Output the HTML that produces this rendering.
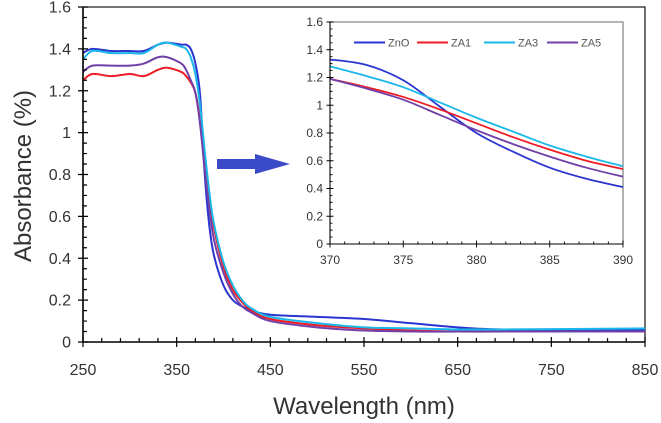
<!DOCTYPE html>
<html><head><meta charset="utf-8"><style>
html,body{margin:0;padding:0;background:#fff;}
svg{display:block;font-family:"Liberation Sans",sans-serif;}
</style></head><body>
<svg id="chart" width="661" height="423" viewBox="0 0 661 423" xmlns="http://www.w3.org/2000/svg">
<g id="main"></g>
<g id="inset"></g>
<path d="M217,159 L255,159 L255,154 L290,164 L255,174 L255,169 L217,169 Z" fill="#3b4bc8"/>
<text transform="translate(31,176) rotate(-90)" text-anchor="middle" font-size="24" fill="#333">Absorbance (%)</text>
<text x="364" y="414" text-anchor="middle" font-size="24" fill="#333">Wavelength (nm)</text>
</svg>
<script>
const seriesNames = ["ZnO","ZA1","ZA3","ZA5"];
const seriesColors = ["#2a35cf","#ee1c24","#1ab8ea","#7040a8"];
const mainWl = [250,260,280,300,315,330,340,355,360,365,370,375,380,385,390,400,410,420,430,450,500,550,600,650,700,850];
const mainZnO = [1.38,1.40,1.39,1.39,1.39,1.42,1.43,1.42,1.42,1.40,1.33,1.18,0.80,0.55,0.41,0.27,0.20,0.17,0.15,0.13,0.12,0.11,0.09,0.07,0.06,0.06];
const mainZA1 = [1.25,1.28,1.27,1.28,1.27,1.30,1.31,1.29,1.27,1.24,1.19,1.06,0.87,0.68,0.54,0.36,0.25,0.19,0.15,0.11,0.08,0.065,0.055,0.05,0.05,0.05];
const mainZA3 = [1.35,1.39,1.38,1.38,1.38,1.42,1.43,1.41,1.40,1.36,1.28,1.13,0.91,0.71,0.56,0.38,0.27,0.20,0.16,0.12,0.09,0.07,0.065,0.06,0.06,0.065];
const mainZA5 = [1.29,1.32,1.32,1.32,1.33,1.36,1.36,1.33,1.30,1.25,1.19,1.04,0.82,0.63,0.485,0.33,0.23,0.17,0.14,0.10,0.07,0.055,0.05,0.05,0.05,0.05];
const insetWl = [370,372.5,375,377.5,380,382.5,385,387.5,390];
const insetZnO = [1.33,1.29,1.18,0.99,0.80,0.665,0.55,0.47,0.41];
const insetZA1 = [1.19,1.13,1.06,0.97,0.87,0.77,0.68,0.60,0.54];
const insetZA3 = [1.28,1.21,1.13,1.02,0.91,0.81,0.71,0.63,0.56];
const insetZA5 = [1.19,1.12,1.04,0.93,0.82,0.72,0.63,0.55,0.485];
const mainXTicks = [250,350,450,550,650,750,850];
const mainYTicks = [0,0.2,0.4,0.6,0.8,1,1.2,1.4,1.6];
const insetXTicks = [370,375,380,385,390];
const insetYTicks = [0,0.2,0.4,0.6,0.8,1,1.2,1.4,1.6];

const NS="http://www.w3.org/2000/svg";
function mk(tag,attrs,parent){const e=document.createElementNS(NS,tag);for(const k in attrs)e.setAttribute(k,attrs[k]);parent.appendChild(e);return e;}
function smooth(pts){
  let d="M"+pts[0][0].toFixed(2)+","+pts[0][1].toFixed(2);
  for(let i=0;i<pts.length-1;i++){
    const p0=pts[Math.max(0,i-1)],p1=pts[i],p2=pts[i+1],p3=pts[Math.min(pts.length-1,i+2)];
    const c1=[p1[0]+(p2[0]-p0[0])/6,p1[1]+(p2[1]-p0[1])/6];
    const c2=[p2[0]-(p3[0]-p1[0])/6,p2[1]-(p3[1]-p1[1])/6];
    d+=" C"+c1[0].toFixed(2)+","+c1[1].toFixed(2)+" "+c2[0].toFixed(2)+","+c2[1].toFixed(2)+" "+p2[0].toFixed(2)+","+p2[1].toFixed(2);
  }
  return d;
}
function drawPlot(g,cfg){
  const X=v=>cfg.x0+(v-cfg.xmin)/(cfg.xmax-cfg.xmin)*(cfg.x1-cfg.x0);
  const Y=v=>cfg.y0-(v-cfg.ymin)/(cfg.ymax-cfg.ymin)*(cfg.y0-cfg.y1);
  const fr=mk("path",{d:`M${cfg.x0},${cfg.y1} H${cfg.x1} V${cfg.y0}`,fill:"none",stroke:cfg.frame,"stroke-width":1.3},g);
  
  
  cfg.series.forEach((s,i)=>{
    const pts=cfg.wl.map((w,j)=>[X(w),Y(s[j])]);
    const p=mk("path",{d:smooth(pts),fill:"none",stroke:seriesColors[i],"stroke-width":cfg.lw,"stroke-linejoin":"round"},g);
    
    
  });
  const ax=mk("path",{d:`M${cfg.x0},${cfg.y1} V${cfg.y0} H${cfg.x1}`,fill:"none",stroke:"#000","stroke-width":cfg.axw},g);
  
  
  let d="";
  for(let v=cfg.xmin;v<=cfg.xmax+1e-9;v+=cfg.xminor){const x=X(v);d+=`M${x},${cfg.y0} v-${cfg.minorLen} `;}
  for(let v=cfg.ymin;v<=cfg.ymax+1e-9;v+=cfg.yminor){const y=Y(v);d+=`M${cfg.x0},${y} h${cfg.minorLen} `;}
  cfg.xticks.forEach(v=>{const x=X(v);d+=`M${x},${cfg.y0-cfg.majorLen} v${cfg.majorLen*2} `;});
  cfg.yticks.forEach(v=>{const y=Y(v);d+=`M${cfg.x0-cfg.majorLen},${y} h${cfg.majorLen*2} `;});
  const tk=mk("path",{d:d,fill:"none",stroke:"#000","stroke-width":cfg.tickw},g);
  
  
  cfg.xticks.forEach(v=>{
    const t=mk("text",{x:X(v),y:cfg.y0+cfg.xlabOff,"text-anchor":"middle","font-size":cfg.fs,fill:"#333"},g);
    t.textContent=String(v);
    
    
  });
  cfg.yticks.forEach(v=>{
    const t=mk("text",{x:cfg.x0-cfg.ylabOff,y:Y(v)+cfg.fs*0.35,"text-anchor":"end","font-size":cfg.fs,fill:"#333"},g);
    t.textContent=String(v);
    
    
  });
}
drawPlot(document.getElementById("main"),{prefix:"main",x0:83,x1:645,y0:342,y1:7,xmin:250,xmax:850,ymin:0,ymax:1.6,
  wl:mainWl,series:[mainZnO,mainZA1,mainZA3,mainZA5],xticks:mainXTicks,yticks:mainYTicks,xminor:20,yminor:0.05,
  minorLen:4,majorLen:5,lw:2,axw:1.6,tickw:1.2,fs:16,xlabOff:33,ylabOff:12,frame:"#222"});
drawPlot(document.getElementById("inset"),{prefix:"inset",x0:330,x1:623,y0:244,y1:22,xmin:370,xmax:390,ymin:0,ymax:1.6,
  wl:insetWl,series:[insetZnO,insetZA1,insetZA3,insetZA5],xticks:insetXTicks,yticks:insetYTicks,xminor:1,yminor:0.05,
  minorLen:2.5,majorLen:3.5,lw:1.8,axw:1.1,tickw:0.9,fs:12,xlabOff:20,ylabOff:7,frame:"#888"});
const lg=document.getElementById("inset");
const legX=[354,417,484,547];
seriesNames.forEach((n,i)=>{
  const ln=mk("line",{x1:legX[i],x2:legX[i]+31,y1:42.5,y2:42.5,stroke:seriesColors[i],"stroke-width":2},lg);
  
  
  const t=mk("text",{x:legX[i]+34,y:46.5,"font-size":11,fill:"#555"},lg);
  t.textContent=n;
  
  
});
</script>
</body></html>
